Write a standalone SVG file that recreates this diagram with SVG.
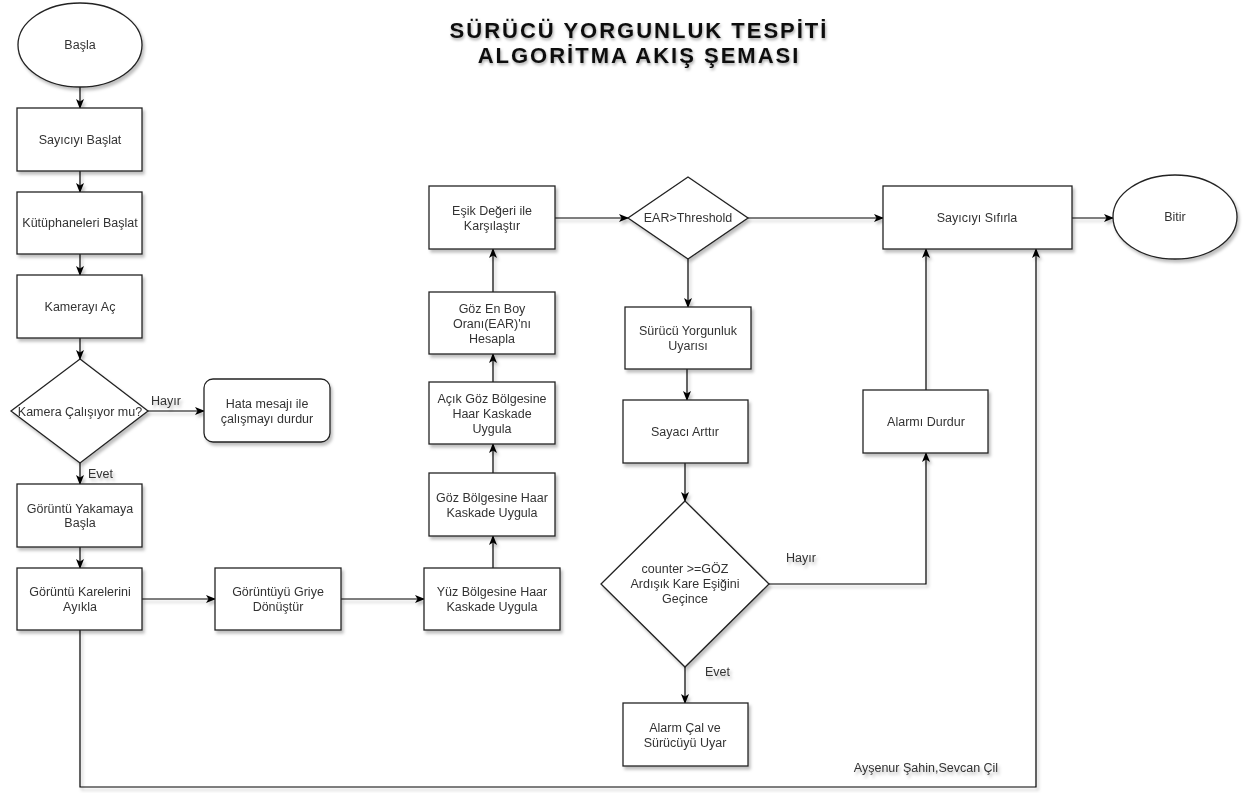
<svg xmlns="http://www.w3.org/2000/svg" width="1249" height="793" viewBox="0 0 1249 793">
<defs>
<filter id="sh" x="-10%" y="-10%" width="130%" height="140%">
<feDropShadow dx="2" dy="3" stdDeviation="1.5" flood-color="#000" flood-opacity="0.25"/>
</filter>
<filter id="tsh" x="-5%" y="-20%" width="110%" height="160%">
<feDropShadow dx="1" dy="2" stdDeviation="1.5" flood-color="#000" flood-opacity="0.35"/>
</filter>
<marker id="arr" markerWidth="10" markerHeight="8" refX="9" refY="4" orient="auto" markerUnits="userSpaceOnUse">
<path d="M0,0 L10,4 L0,8 L2.5,4 Z" fill="#000"/>
</marker>
</defs>
<style>
.n{fill:#fff;stroke:#222;stroke-width:1.3}
.t{font-family:"Liberation Sans",Arial,sans-serif;font-size:12.5px;fill:#333;text-anchor:middle}
.l{font-family:"Liberation Sans",Arial,sans-serif;font-size:12.5px;fill:#333}
.e{fill:none;stroke:#000;stroke-width:1.2}
.ttl{font-family:"Liberation Sans",Arial,sans-serif;font-size:22px;font-weight:bold;fill:#111;text-anchor:middle;letter-spacing:2px}
</style>
<rect width="1249" height="793" fill="#fff"/>
<g id="title" filter="url(#tsh)">
<text class="ttl" x="639" y="38">SÜRÜCÜ YORGUNLUK TESPİTİ</text>
<text class="ttl" x="639" y="63">ALGORİTMA AKIŞ ŞEMASI</text>
</g>
<g id="connectors" filter="url(#sh)">
<path class="e" d="M80,87 V108" marker-end="url(#arr)"/>
<path class="e" d="M80,171 V192" marker-end="url(#arr)"/>
<path class="e" d="M80,254 V275" marker-end="url(#arr)"/>
<path class="e" d="M80,338 V359" marker-end="url(#arr)"/>
<path class="e" d="M148,411 H204" marker-end="url(#arr)"/>
<path class="e" d="M80,463 V484" marker-end="url(#arr)"/>
<path class="e" d="M80,547 V568" marker-end="url(#arr)"/>
<path class="e" d="M142,599 H215" marker-end="url(#arr)"/>
<path class="e" d="M341,599 H424" marker-end="url(#arr)"/>
<path class="e" d="M493,568 V536" marker-end="url(#arr)"/>
<path class="e" d="M493,473 V444" marker-end="url(#arr)"/>
<path class="e" d="M493,382 V354" marker-end="url(#arr)"/>
<path class="e" d="M493,292 V249" marker-end="url(#arr)"/>
<path class="e" d="M555,218 H628" marker-end="url(#arr)"/>
<path class="e" d="M748,218 H883" marker-end="url(#arr)"/>
<path class="e" d="M1072,218 H1113" marker-end="url(#arr)"/>
<path class="e" d="M688,259 V307" marker-end="url(#arr)"/>
<path class="e" d="M687,369 V400" marker-end="url(#arr)"/>
<path class="e" d="M685,463 V501" marker-end="url(#arr)"/>
<path class="e" d="M685,667 V703" marker-end="url(#arr)"/>
<path class="e" d="M769,584 H926 V453" marker-end="url(#arr)"/>
<path class="e" d="M926,390 V249" marker-end="url(#arr)"/>
<path class="e" d="M80,630 V787 H1036 V249" marker-end="url(#arr)"/>
<text class="l" x="151" y="405">Hayır</text>
<text class="l" x="88" y="478">Evet</text>
<text class="l" x="705" y="676">Evet</text>
<text class="l" x="786" y="562">Hayır</text>
</g>
<g id="basla" filter="url(#sh)">
<ellipse class="n" cx="80" cy="45" rx="62" ry="42"/>
<text class="t" x="80" y="49">Başla</text>
</g>
<g id="sayiciyi-baslat" filter="url(#sh)">
<rect class="n" x="17" y="108" width="125" height="63"/>
<text class="t" x="80" y="144">Sayıcıyı Başlat</text>
</g>
<g id="kutuphaneleri" filter="url(#sh)">
<rect class="n" x="17" y="192" width="125" height="62"/>
<text class="t" x="80" y="227">Kütüphaneleri Başlat</text>
</g>
<g id="kamerayi-ac" filter="url(#sh)">
<rect class="n" x="17" y="275" width="125" height="63"/>
<text class="t" x="80" y="311">Kamerayı Aç</text>
</g>
<g id="kamera-calisiyor" filter="url(#sh)">
<polygon class="n" points="80,359 148,411 80,463 11,411"/>
<text class="t" x="80" y="416">Kamera Çalışıyor mu?</text>
</g>
<g id="hata" filter="url(#sh)">
<rect class="n" x="204" y="379" width="126" height="63" rx="9"/>
<text class="t" x="267" y="408">Hata mesajı ile</text>
<text class="t" x="267" y="423">çalışmayı durdur</text>
</g>
<g id="goruntu-yakamaya" filter="url(#sh)">
<rect class="n" x="17" y="484" width="125" height="63"/>
<text class="t" x="80" y="513">Görüntü Yakamaya</text>
<text class="t" x="80" y="527">Başla</text>
</g>
<g id="goruntu-kareleri" filter="url(#sh)">
<rect class="n" x="17" y="568" width="125" height="62"/>
<text class="t" x="80" y="596">Görüntü Karelerini</text>
<text class="t" x="80" y="611">Ayıkla</text>
</g>
<g id="griye" filter="url(#sh)">
<rect class="n" x="215" y="568" width="126" height="62"/>
<text class="t" x="278" y="596">Görüntüyü Griye</text>
<text class="t" x="278" y="611">Dönüştür</text>
</g>
<g id="yuz" filter="url(#sh)">
<rect class="n" x="424" y="568" width="136" height="62"/>
<text class="t" x="492" y="596">Yüz Bölgesine Haar</text>
<text class="t" x="492" y="611">Kaskade Uygula</text>
</g>
<g id="goz-bolgesi" filter="url(#sh)">
<rect class="n" x="429" y="473" width="126" height="63"/>
<text class="t" x="492" y="502">Göz Bölgesine Haar</text>
<text class="t" x="492" y="517">Kaskade Uygula</text>
</g>
<g id="acik-goz" filter="url(#sh)">
<rect class="n" x="429" y="382" width="126" height="62"/>
<text class="t" x="492" y="403">Açık Göz Bölgesine</text>
<text class="t" x="492" y="418">Haar Kaskade</text>
<text class="t" x="492" y="433">Uygula</text>
</g>
<g id="ear-hesapla" filter="url(#sh)">
<rect class="n" x="429" y="292" width="126" height="62"/>
<text class="t" x="492" y="313">Göz En Boy</text>
<text class="t" x="492" y="328">Oranı(EAR)'nı</text>
<text class="t" x="492" y="343">Hesapla</text>
</g>
<g id="esik" filter="url(#sh)">
<rect class="n" x="429" y="186" width="126" height="63"/>
<text class="t" x="492" y="215">Eşik Değeri ile</text>
<text class="t" x="492" y="230">Karşılaştır</text>
</g>
<g id="ear-threshold" filter="url(#sh)">
<polygon class="n" points="688,177 748,218 688,259 628,218"/>
<text class="t" x="688" y="222">EAR&gt;Threshold</text>
</g>
<g id="uyari" filter="url(#sh)">
<rect class="n" x="625" y="307" width="126" height="62"/>
<text class="t" x="688" y="335">Sürücü Yorgunluk</text>
<text class="t" x="688" y="350">Uyarısı</text>
</g>
<g id="sayaci-arttir" filter="url(#sh)">
<rect class="n" x="623" y="400" width="125" height="63"/>
<text class="t" x="685" y="436">Sayacı Arttır</text>
</g>
<g id="counter" filter="url(#sh)">
<polygon class="n" points="685,501 769,584 685,667 601,584"/>
<text class="t" x="685" y="573">counter &gt;=GÖZ</text>
<text class="t" x="685" y="588">Ardışık Kare Eşiğini</text>
<text class="t" x="685" y="603">Geçince</text>
</g>
<g id="alarm-cal" filter="url(#sh)">
<rect class="n" x="623" y="703" width="125" height="63"/>
<text class="t" x="685" y="732">Alarm Çal ve</text>
<text class="t" x="685" y="747">Sürücüyü Uyar</text>
</g>
<g id="alarmi-durdur" filter="url(#sh)">
<rect class="n" x="863" y="390" width="125" height="63"/>
<text class="t" x="926" y="426">Alarmı Durdur</text>
</g>
<g id="sayiciyi-sifirla" filter="url(#sh)">
<rect class="n" x="883" y="186" width="189" height="63"/>
<text class="t" x="977" y="222">Sayıcıyı Sıfırla</text>
</g>
<g id="bitir" filter="url(#sh)">
<ellipse class="n" cx="1175" cy="217" rx="62" ry="42"/>
<text class="t" x="1175" y="221">Bitir</text>
</g>
<g id="authors" filter="url(#sh)">
<text class="t" x="926" y="772">Ayşenur Şahin,Sevcan Çil</text>
</g>
</svg>
